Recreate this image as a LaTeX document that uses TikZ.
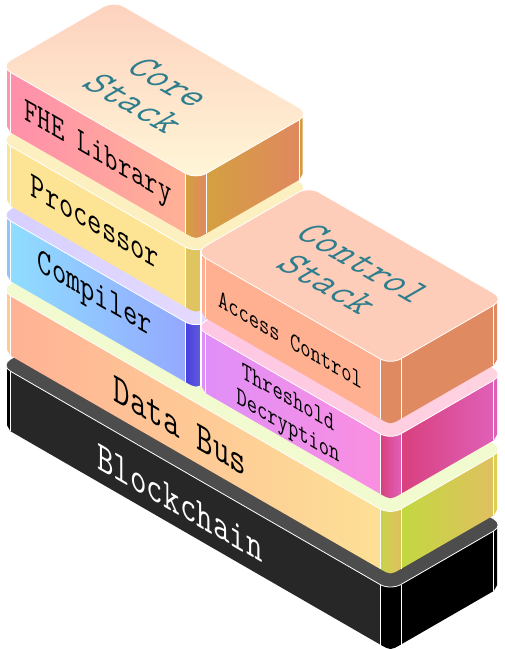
\documentclass[tikz,border=0pt]{standalone}
\usepackage{fontspec}
\newfontfamily\stackfont{Latin Modern Mono}
\definecolor{teallabel}{RGB}{45, 125, 140}
\usetikzlibrary{calc}
\tikzset{
    slabline/.style={draw=white, line width=0.8pt},
    toptext/.style={cm={0.866,-0.5,0.97,0.56,(0,0)}, text=teallabel, align=center, inner sep=0pt},
    sidetext/.style={cm={0.866,-0.5,0,1.14,(0,0)}, text=black, align=center, inner sep=0pt},
    % Core
    core top/.style={top color={rgb,255:red,253;green,209;blue,189}, bottom color={rgb,255:red,255;green,246;blue,216}},
    core left/.style={left color={rgb,255:red,255;green,143;blue,171}, right color={rgb,255:red,255;green,178;blue,150}},
    core strip/.style={left color={rgb,255:red,212;green,160;blue,64}, right color={rgb,255:red,224;green,136;blue,96}},
    core right/.style={left color={rgb,255:red,212;green,160;blue,64}, right color={rgb,255:red,224;green,136;blue,96}},
    core edgel/.style={fill={rgb,255:red,255;green,150;blue,170}},
    core edger/.style={fill={rgb,255:red,214;green,154;blue,64}},
    % Processor
    proc top/.style={fill={rgb,255:red,253;green,240;blue,192}},
    proc left/.style={fill={rgb,255:red,253;green,227;blue,148}},
    proc strip/.style={fill={rgb,255:red,224;green,196;blue,95}},
    proc right/.style={fill={rgb,255:red,224;green,196;blue,95}},
    proc edgel/.style={fill={rgb,255:red,253;green,227;blue,148}},
    proc edger/.style={fill={rgb,255:red,224;green,196;blue,95}},
    % Compiler
    comp top/.style={left color={rgb,255:red,214;green,207;blue,255}, right color={rgb,255:red,236;green,224;blue,255}},
    comp left/.style={left color={rgb,255:red,143;green,221;blue,255}, right color={rgb,255:red,148;green,168;blue,255}},
    comp strip/.style={left color={rgb,255:red,74;green,63;blue,224}, right color={rgb,255:red,106;green,104;blue,216}},
    comp right/.style={fill={rgb,255:red,106;green,104;blue,216}},
    comp edgel/.style={fill={rgb,255:red,143;green,196;blue,255}},
    comp edger/.style={fill={rgb,255:red,106;green,104;blue,216}},
    % Data Bus
    bus top/.style={fill={rgb,255:red,242;green,250;blue,208}},
    bus left/.style={left color={rgb,255:red,255;green,178;blue,149}, right color={rgb,255:red,253;green,224;blue,150}},
    bus strip/.style={left color={rgb,255:red,200;green,212;blue,72}, right color={rgb,255:red,224;green,192;blue,96}},
    bus right/.style={left color={rgb,255:red,194;green,216;blue,64}, right color={rgb,255:red,224;green,192;blue,96}},
    bus edgel/.style={fill={rgb,255:red,255;green,203;blue,144}},
    bus edger/.style={fill={rgb,255:red,220;green,208;blue,80}},
    % Blockchain
    chain top/.style={fill={rgb,255:red,77;green,77;blue,77}},
    chain left/.style={fill={rgb,255:red,39;green,39;blue,39}},
    chain strip/.style={fill=black},
    chain right/.style={fill=black},
    chain edgel/.style={fill=black},
    chain edger/.style={fill=black},
    % Access Control
    access top/.style={fill={rgb,255:red,253;green,205;blue,185}},
    access left/.style={fill={rgb,255:red,255;green,176;blue,145}},
    access strip/.style={fill={rgb,255:red,224;green,138;blue,98}},
    access right/.style={fill={rgb,255:red,224;green,138;blue,98}},
    access edgel/.style={fill={rgb,255:red,255;green,176;blue,145}},
    access edger/.style={fill={rgb,255:red,224;green,138;blue,98}},
    % Threshold Decryption
    thresh top/.style={left color={rgb,255:red,254;green,198;blue,228}, right color={rgb,255:red,255;green,211;blue,224}},
    thresh left/.style={left color={rgb,255:red,224;green,143;blue,248}, right color={rgb,255:red,250;green,143;blue,224}},
    thresh strip/.style={left color={rgb,255:red,216;green,64;blue,126}, right color={rgb,255:red,224;green,96;blue,184}},
    thresh right/.style={left color={rgb,255:red,216;green,64;blue,126}, right color={rgb,255:red,224;green,96;blue,184}},
    thresh edgel/.style={fill={rgb,255:red,224;green,143;blue,248}},
    thresh edger/.style={fill={rgb,255:red,224;green,96;blue,184}},
}
\newcommand{\slabh}{60}
% name, left corner x and y, front corner x, right corner x
\newcommand{\stackslab}[5]{
    \pgfmathsetmacro{\slabfy}{#3+0.577*(#4-#2)}
    \pgfmathsetmacro{\slabry}{\slabfy-0.577*(#5-#4)}
    \pgfmathsetmacro{\slabty}{#3+\slabry-\slabfy}
    \coordinate (#1L) at (#2,#3);
    \coordinate (#1F) at (#4,\slabfy);
    \coordinate (#1R) at (#5,\slabry);
    \coordinate (#1T) at (#2+#5-#4,\slabty);
    % corners of the sides
    \path[#1 edgel] ($(#1L)+(7,0)$) -- ++(0,\slabh) .. controls ($(#1L)+(8.2,\slabh+3)$) .. ($(#1L)+(10.4,\slabh+6)$) -- ($(#1L)+(10.4,6)$) -- cycle;
    \path[#1 strip] ($(#1F)+(-10.4,-8)$) -- ($(#1F)+(-10.4,\slabh-6)$) .. controls ($(#1F)+(0,\slabh)$) .. ($(#1F)+(10.4,\slabh-6)$) -- ($(#1F)+(10.4,-8)$) -- cycle;
    \path[#1 edger] ($(#1R)+(-7,0)$) -- ++(0,\slabh) .. controls ($(#1R)+(-8.2,\slabh+3)$) .. ($(#1R)+(-10.4,\slabh+6)$) -- ($(#1R)+(-10.4,6)$) -- cycle;
    % faces
    \path[#1 left] ($(#1L)+(10.4,6)$) -- ($(#1F)+(-10.4,-6)$) -- ++(0,\slabh) -- ($(#1L)+(10.4,\slabh+6)$) -- cycle;
    \path[#1 right] ($(#1F)+(10.4,-6)$) -- ($(#1R)+(-10.4,6)$) -- ++(0,\slabh) -- ($(#1F)+(10.4,\slabh-6)$) -- cycle;
    \draw[slabline] ($(#1L)+(10.4,6)$) -- ++(0,\slabh);
    \draw[slabline] ($(#1F)+(-10.4,-6)$) -- ++(0,\slabh);
    \draw[slabline] ($(#1F)+(10.4,-6)$) -- ++(0,\slabh);
    \draw[slabline] ($(#1R)+(-10.4,6)$) -- ++(0,\slabh);
    % top
    \path[#1 top, slabline, rounded corners=12pt] (#1L) -- (#1T) -- (#1R) -- (#1F) -- cycle;
}

\begin{document}
\begin{tikzpicture}[x=1pt, y=-1pt, font=\stackfont]
    \useasboundingbox (0,0) rectangle (505,649);

    % Bottom of the stack
    \stackslab{chain}{0}{365.2}{390.5}{504.2}
    \stackslab{bus}{0}{289.6}{390.5}{504.2}

    % Left column
    \stackslab{comp}{0}{215}{196}{309.7}
    \stackslab{proc}{0}{140}{196}{309.7}
    \stackslab{core}{0}{66.3}{196}{309.7}

    % Gap in front of the right column
    \draw[slabline, line width=2pt] (201,250) -- (201,386);

    % Right column
    \stackslab{thresh}{195}{327}{390.5}{504.2}
    \stackslab{access}{195}{252}{390.5}{504.2}

    % Labels
    \node[toptext, font=\stackfont\fontsize{38}{37}\selectfont] (coretitle) at (152,93) {Core\\Stack};
    \node[toptext, font=\stackfont\fontsize{38}{37}\selectfont] (controltitle) at (346,274) {Control\\Stack};
    \node[sidetext, font=\stackfont\fontsize{30}{30}\selectfont] (fhe) at (98,155) {FHE Library};
    \node[sidetext, font=\stackfont\fontsize{32}{32}\selectfont] (processor) at (95,222) {Processor};
    \node[sidetext, font=\stackfont\fontsize{32}{32}\selectfont] (compiler) at (95,296) {Compiler};
    \node[sidetext, font=\stackfont\fontsize{23}{24}\selectfont] (access) at (290,340) {Access Control};
    \node[sidetext, font=\stackfont\fontsize{23}{25}\selectfont] (threshold) at (288,414) {Threshold\\Decryption};
    \node[sidetext, font=\stackfont\fontsize{37}{36}\selectfont] (databus) at (180,426) {Data Bus};
    \node[sidetext, text=white, font=\stackfont\fontsize{37}{36}\selectfont] (blockchain) at (180,503) {Blockchain};
\end{tikzpicture}
\end{document}
